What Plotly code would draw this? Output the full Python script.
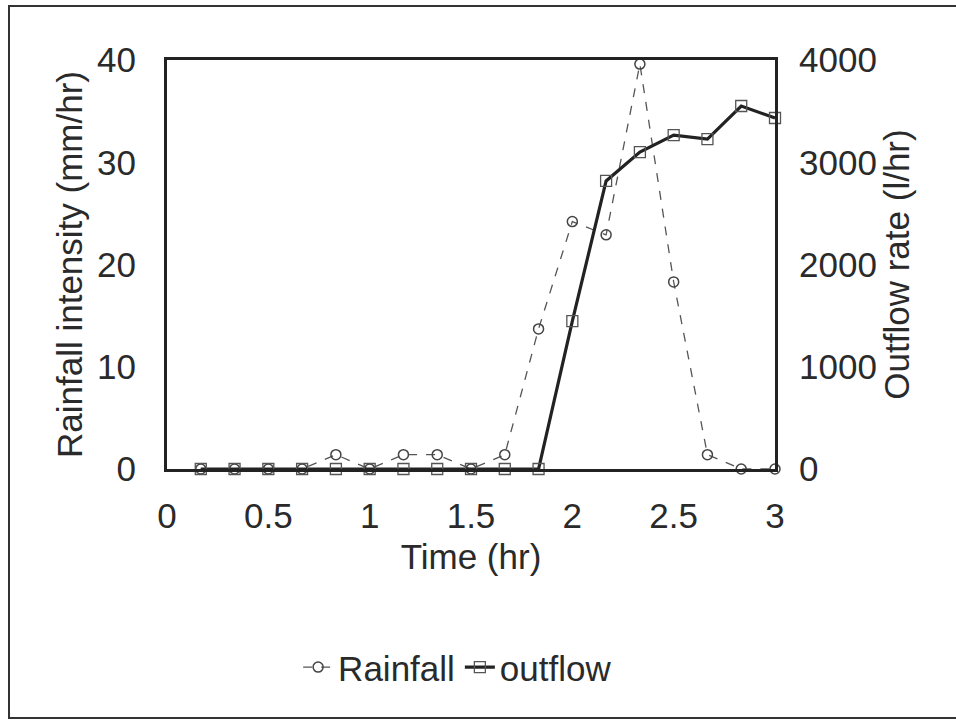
import plotly.graph_objects as go

time_hr = [1/6, 2/6, 3/6, 4/6, 5/6, 1.0, 7/6, 8/6, 1.5, 10/6, 11/6, 2.0,
           13/6, 14/6, 2.5, 16/6, 17/6, 3.0]
rainfall = [0, 0, 0, 0, 1.4, 0, 1.4, 1.4, 0, 1.4, 13.7, 24.2,
            22.9, 39.6, 18.3, 1.4, 0, 0]
outflow = [0, 0, 0, 0, 0, 0, 0, 0, 0, 0, 0, 1447,
           2817, 3100, 3266, 3227, 3550, 3433]

x_ticks = [0, 0.5, 1, 1.5, 2, 2.5, 3]
x_ticklabels = ["0", "0.5", "1", "1.5", "2", "2.5", "3"]
y1_ticks = [0, 10, 20, 30, 40]
y2_ticks = [0, 1000, 2000, 3000, 4000]

FONT = "Liberation Sans, Arial, sans-serif"
TXT = "#2a2a2a"
FS = 35

fig = go.Figure()
fig.add_trace(go.Scatter(
    x=time_hr, y=rainfall, name="Rainfall", mode="lines+markers",
    line=dict(color="#555555", width=1.3, dash="dash"),
    marker=dict(symbol="circle-open", size=10, color="#444444", line=dict(width=1.5)),
    yaxis="y", cliponaxis=False,
))
fig.add_trace(go.Scatter(
    x=time_hr, y=outflow, name="outflow", mode="lines+markers",
    line=dict(color="#222222", width=3.2),
    marker=dict(symbol="square-open", size=11, color="#555555", line=dict(width=1.3)),
    yaxis="y2", cliponaxis=False,
))

W, H = 956, 720
L, R, T, B = 167, 775, 60, 469
pw, ph = R - L, B - T

fig.update_layout(
    width=W, height=H,
    margin=dict(l=L, r=W - R, t=T, b=H - B, pad=0),
    paper_bgcolor="white", plot_bgcolor="white",
    font=dict(family=FONT, size=FS, color=TXT),
    showlegend=True,
    legend=dict(orientation="h", x=0.478, y=-0.485, xanchor="center", yanchor="middle",
                font=dict(size=FS, color=TXT), itemwidth=30, tracegroupgap=0,
                bgcolor="rgba(0,0,0,0)"),
    xaxis=dict(range=[0, 3], tickvals=x_ticks, ticktext=x_ticklabels,
               showgrid=False, zeroline=False, showline=True, linecolor="#222",
               linewidth=3, mirror=True, ticks="", ticklabelstandoff=14,
               tickfont=dict(size=FS),
               title=dict(text="Time (hr)", font=dict(size=FS), standoff=11)),
    yaxis=dict(range=[0, 40], tickvals=y1_ticks, showgrid=False, zeroline=False,
               showline=True, linecolor="#222", linewidth=3, ticks="",
               ticklabelstandoff=21, tickfont=dict(size=FS),
               title=dict(text="Rainfall intensity (mm/hr)", font=dict(size=FS), standoff=4)),
    yaxis2=dict(range=[0, 4000], tickvals=y2_ticks, overlaying="y", side="right",
                showgrid=False, zeroline=False, showline=True, linecolor="#222",
                linewidth=3, ticks="", ticklabelstandoff=14, tickfont=dict(size=FS),
                title=dict(text="Outflow rate (l/hr)", font=dict(size=FS), standoff=9)),
    shapes=[dict(type="rect", xref="paper", yref="paper",
                 x0=(9 - L) / pw, x1=(962 - L) / pw,
                 y0=(B - 718) / ph, y1=(B - 6) / ph,
                 line=dict(color="#333", width=2), fillcolor="rgba(0,0,0,0)", layer="below")],
)

fig.write_html("out.html")
